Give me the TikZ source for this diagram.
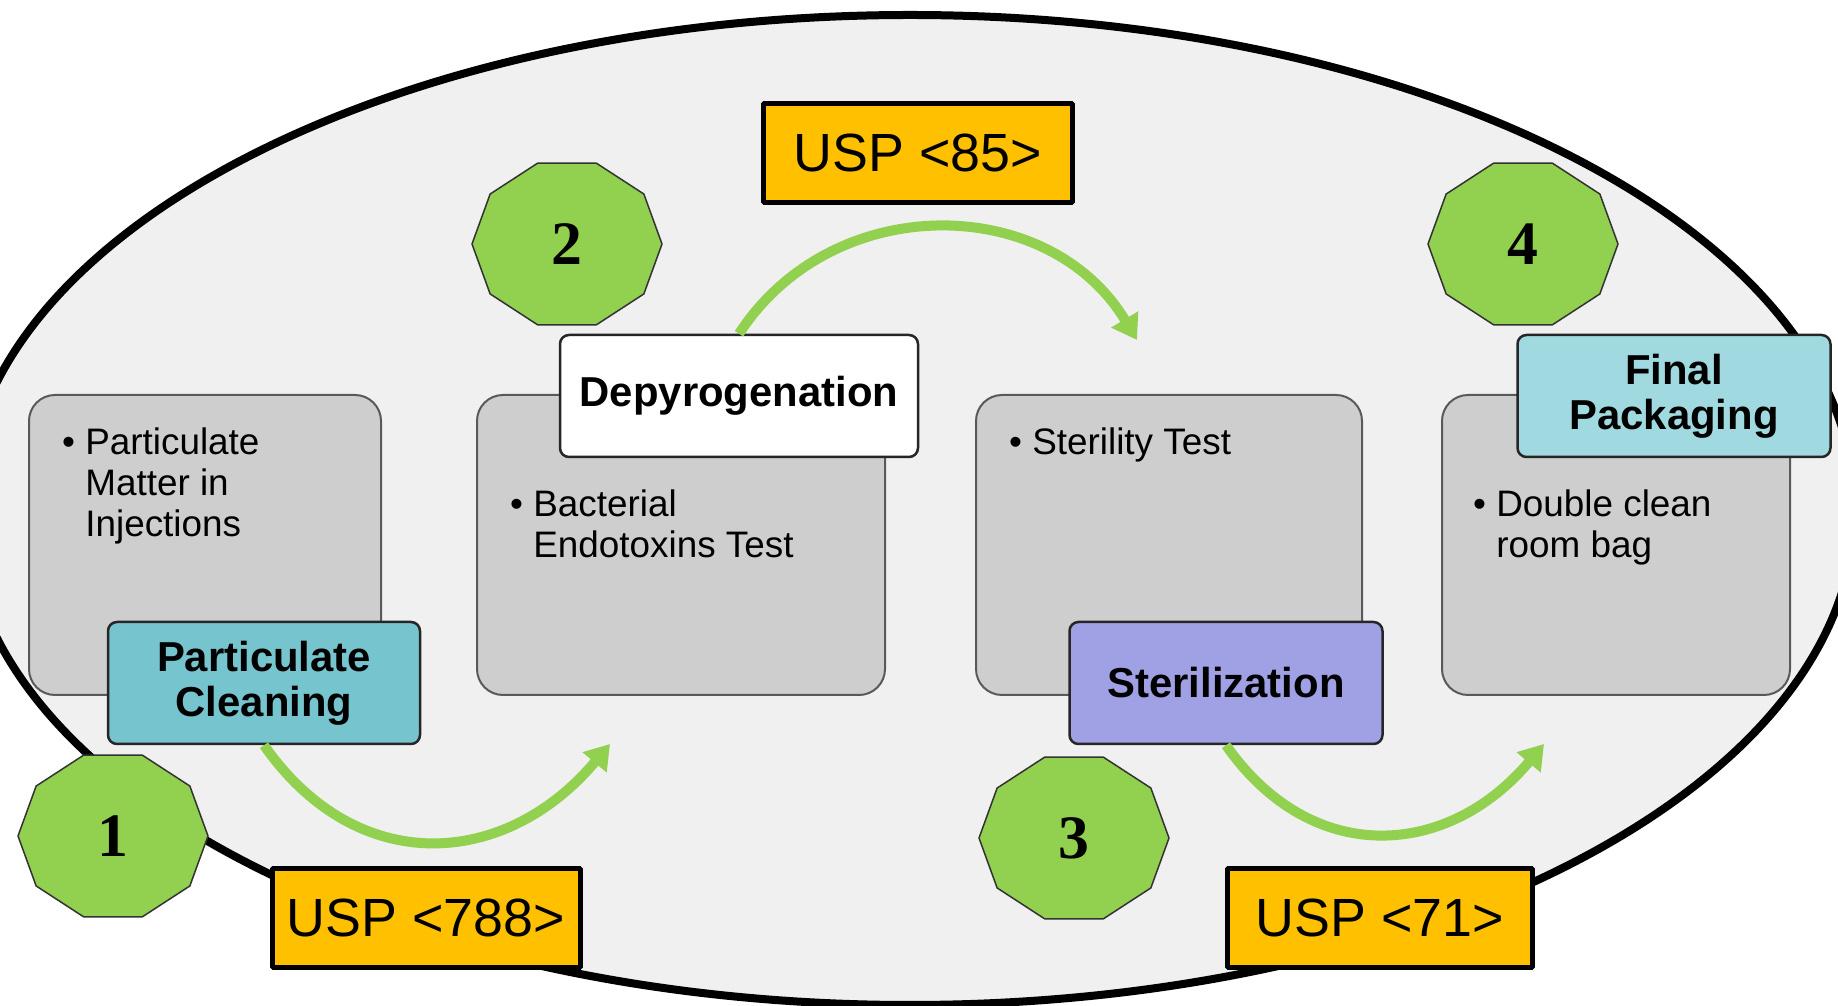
\documentclass[tikz,border=0pt]{standalone}
\usepackage{fontspec}
\setmainfont{Liberation Sans}
\newfontfamily\numfont{Liberation Serif}
\usetikzlibrary{arrows,arrows.meta,shapes,calc,positioning}
\definecolor{ovalgray}{RGB}{240,240,240}
\definecolor{boxgray}{RGB}{206,206,206}
\definecolor{stepgreen}{RGB}{146,208,80}
\definecolor{uspgold}{RGB}{255,192,0}
\definecolor{cleancyan}{RGB}{118,196,206}
\definecolor{packcyan}{RGB}{160,218,224}
\definecolor{sterilblue}{RGB}{160,160,228}
\newcommand{\bulgap}{\hphantom{\textbullet\ }}

\begin{document}
\begin{tikzpicture}[>={Triangle[width=30bp,length=24bp]}, join=bevel]
 \tikzstyle{box}=[draw=black!65, line width=2bp, fill=boxgray, rounded corners=26bp, minimum height=300bp]
 \tikzstyle{item}=[inner sep=0pt, anchor=north west, align=left, font=\fontsize{37}{41}\selectfont]
 \tikzstyle{tag}=[draw=black!85, line width=2.5bp, rounded corners=9bp, minimum height=122bp, align=center, font=\bfseries\fontsize{42}{45}\selectfont]
 \tikzstyle{usp}=[draw=black, line width=5bp, fill=uspgold, minimum height=99bp, font=\fontsize{54}{60}\selectfont]
 \tikzstyle{flow}=[->, line width=10bp, draw=stepgreen]
 \tikzstyle{deca}=[draw=black!80, line width=1.5bp, fill=stepgreen]
 \tikzstyle{num}=[font=\numfont\bfseries\fontsize{62}{70}\selectfont]

 \useasboundingbox (0,0) rectangle (1838bp,1006bp);
 \clip (0,0) rectangle (1838bp,1006bp);
 \draw [line width=8bp, fill=ovalgray] (910bp,496bp) ellipse (945bp and 495bp);

 \node (box1) at (205bp,461bp) [box, minimum width=352bp] {};
 \node (box2) at (681bp,461bp) [box, minimum width=408bp] {};
 \node (box3) at (1169bp,461bp) [box, minimum width=386bp] {};
 \node (box4) at (1616bp,461bp) [box, minimum width=348bp] {};

 \node (txt1) at (62bp,578bp) [item] {\textbullet\ Particulate\\\bulgap Matter in\\\bulgap Injections};
 \node (txt2) at (510bp,516bp) [item] {\textbullet\ Bacterial\\\bulgap Endotoxins Test};
 \node (txt3) at (1009bp,578bp) [item] {\textbullet\ Sterility Test};
 \node (txt4) at (1473bp,516bp) [item] {\textbullet\ Double clean\\\bulgap room bag};

 \node (clean) at (264bp,323bp) [tag, fill=cleancyan, minimum width=312bp] {Particulate\\Cleaning};
 \node (depy) at (739bp,610bp) [tag, fill=white, minimum width=358bp] {Depyrogenation};
 \node (steril) at (1226bp,323bp) [tag, fill=sterilblue, minimum width=313bp] {Sterilization};
 \node (pack) at (1674bp,610bp) [tag, fill=packcyan, minimum width=313bp] {Final\\Packaging};

 \coordinate (tip1) at (610bp,262bp);
 \coordinate (tip2) at (1137bp,666bp);
 \coordinate (tip3) at (1544bp,262bp);
 \draw [flow] (clean.south) to[out=-55, in=-130, looseness=1.2] (tip1);
 \draw [flow] (depy.north) to[out=57, in=121, looseness=1.1] (tip2);
 \draw [flow] (steril.south) to[out=-55, in=-130, looseness=1.2] (tip3);

 \foreach \i/\x/\y in {1/113/170, 2/567/762, 3/1074/168, 4/1523/762} {
   \coordinate (c\i) at (\x bp,\y bp);
   \filldraw [deca] (c\i) +(0:95bp and 85bp) \foreach \a in {36,72,...,324} {-- +(\a:95bp and 85bp)} -- cycle;
   \node (n\i) at (c\i) [num] {\i};
 }

 \node (u85) at (918bp,853bp) [usp, minimum width=309bp] {USP <85>};
 \node (u788) at (426bp,88bp) [usp, minimum width=308bp] {USP <788>};
 \node (u71) at (1380bp,88bp) [usp, minimum width=305bp] {USP <71>};
\end{tikzpicture}
\end{document}
